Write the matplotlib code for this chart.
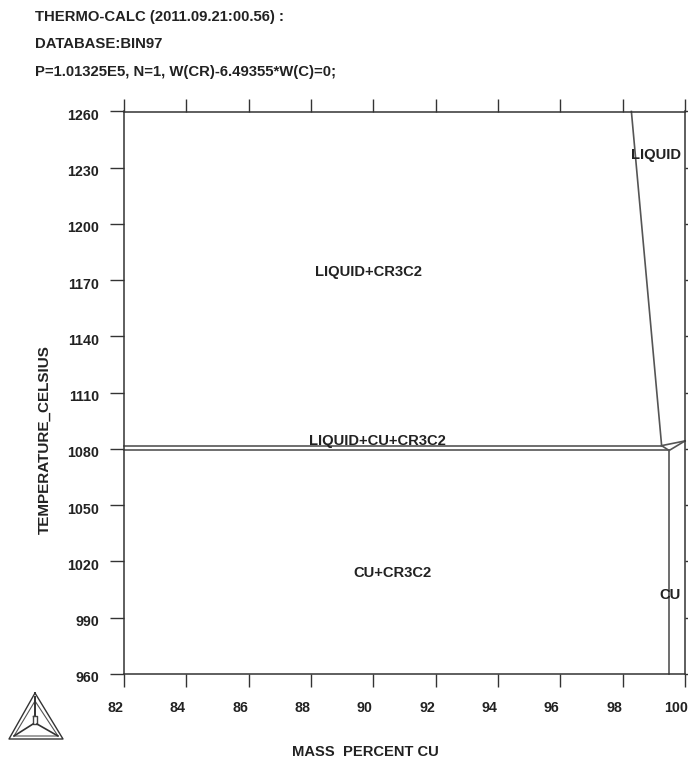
import matplotlib
matplotlib.use('Agg')
import matplotlib.pyplot as plt
from matplotlib.transforms import ScaledTranslation

plt.rcParams['font.family'] = ['Liberation Sans', 'DejaVu Sans']

header = ['THERMO-CALC (2011.09.21:00.56) :', 'DATABASE:BIN97',
          'P=1.01325E5, N=1, W(CR)-6.49355*W(C)=0;']

xticks = [82, 84, 86, 88, 90, 92, 94, 96, 98, 100]
yticks = [960, 990, 1020, 1050, 1080, 1110, 1140, 1170, 1200, 1230, 1260]

# phase boundaries, mass percent Cu / temperature in C
liquidus_x = [98.28, 99.25]
liquidus_y = [1260, 1081.8]
eutectic_x = [82, 99.25]
eutectic_y = [1081.8, 1081.8]
solidus_x = [82, 99.49]
solidus_y = [1079.2, 1079.2]
solvus_x = [99.49, 99.49]
solvus_y = [1079.2, 960]
tie1_x = [99.25, 99.49, 100]
tie1_y = [1081.8, 1079.2, 1084.3]
tie2_x = [99.25, 100]
tie2_y = [1081.8, 1084.3]

label_text = ['LIQUID+CR3C2', 'LIQUID+CU+CR3C2', 'CU+CR3C2', 'LIQUID', 'CU']
label_x = [89.83, 90.12, 90.6, 99.07, 99.52]
label_y = [1174.2, 1084.1, 1013.8, 1237, 1002]

line = '#555555'
ink = '#222222'
fs = 10.3
W, H = 688, 760

fig = plt.figure(figsize=(W / 100, H / 100), dpi=100)
ax = fig.add_axes([124 / W, 1 - 674 / H, 561 / W, 562.5 / H])
ax.set_xlim(82, 100)
ax.set_ylim(960, 1260)
for s in ax.spines.values():
    s.set_linewidth(1.1)
    s.set_color('#333333')

ax.set_xticks(xticks)
ax.set_yticks(yticks)
ax.tick_params(axis='x', top=True, bottom=True, direction='out', length=9.5, width=1,
               color='#333333', labelsize=fs, pad=10, labelcolor=ink)
ax.tick_params(axis='y', left=True, right=True, direction='out', length=10, width=1,
               color='#333333', labelsize=fs, pad=8, labelcolor=ink)
# tick labels sit left of / below their ticks in the original plot
shift_x = ScaledTranslation(-8.5 / 100, 0, fig.dpi_scale_trans)
shift_y = ScaledTranslation(0, -3 / 100, fig.dpi_scale_trans)
for t in ax.get_xticklabels():
    t.set_fontweight('bold')
    t.set_transform(t.get_transform() + shift_x)
for t in ax.get_yticklabels():
    t.set_fontweight('bold')
    t.set_transform(t.get_transform() + shift_y)

for xs, ys in [(liquidus_x, liquidus_y), (eutectic_x, eutectic_y), (solidus_x, solidus_y),
               (solvus_x, solvus_y), (tie1_x, tie1_y), (tie2_x, tie2_y)]:
    ax.plot(xs, ys, color=line, lw=1.2, clip_on=False)

for txt, x, y in zip(label_text, label_x, label_y):
    ax.text(x, y, txt, ha='center', va='center', fontsize=fs + 0.3, fontweight='bold', color=ink)

fig.text(365 / W, 1 - 752 / H, 'MASS  PERCENT CU', fontsize=10.6, fontweight='bold',
         color=ink, ha='center', va='center')
fig.text(45 / W, 1 - 440 / H, 'TEMPERATURE_CELSIUS', fontsize=11, fontweight='bold',
         color=ink, ha='center', va='center', rotation=90)

for txt, y in zip(header, [17, 44, 72]):
    fig.text(35 / W, 1 - y / H, txt, fontsize=10.7, fontweight='bold', color=ink, va='center')

# Thermo-Calc logo, in pixel positions
logo = fig.add_axes([0, 0, 1, 1], facecolor='none')
logo.set_xlim(0, W)
logo.set_ylim(H, 0)
logo.axis('off')
logo.plot([35, 9, 63, 35], [693, 739, 739, 693], color='#333333', lw=1)
logo.plot([35, 14, 58, 35], [701, 736, 736, 701], color='#555555', lw=0.8)
logo.plot([35, 35], [697, 716], color='#333333', lw=1.4)
logo.plot([33, 37, 37, 33, 33], [716, 716, 724, 724, 716], color='#444444', lw=1)
logo.plot([14, 33], [736, 724], color='#333333', lw=1.2)
logo.plot([58, 37], [736, 724], color='#333333', lw=1.2)

fig.savefig('out.png', dpi=100)
